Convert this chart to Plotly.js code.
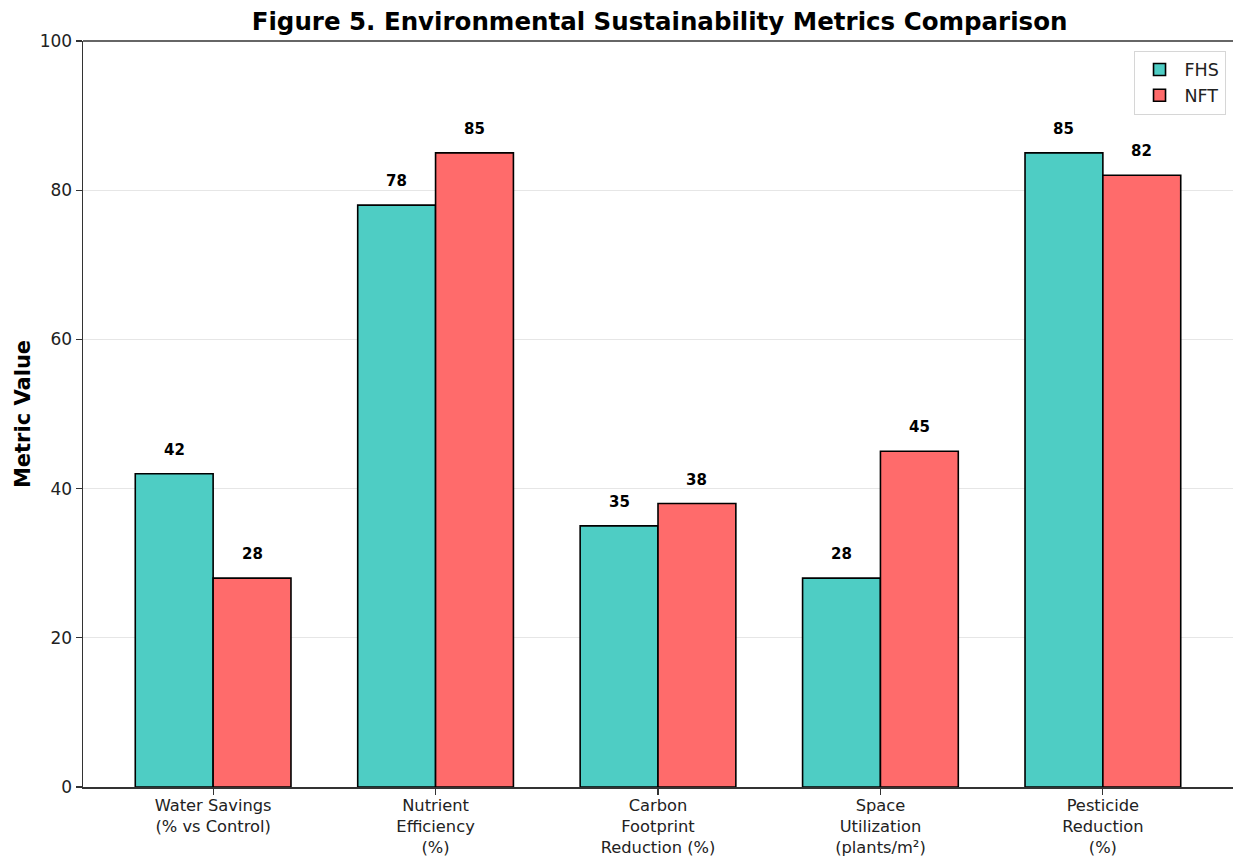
<!DOCTYPE html>
<html>
<head>
<meta charset="utf-8">
<script src="https://cdn.plot.ly/plotly-3.0.1.min.js"></script>
<style>
  html, body { margin: 0; padding: 0; background: #ffffff; }
  #chart { width: 1234px; height: 859px; }
</style>
</head>
<body>
<div id="chart"></div>
<script>
// Metric categories and values for the two systems
const categories = [
  "Water Savings<br>(% vs Control)",
  "Nutrient<br>Efficiency<br>(%)",
  "Carbon<br>Footprint<br>Reduction (%)",
  "Space<br>Utilization<br>(plants/m²)",
  "Pesticide<br>Reduction<br>(%)"
];
const fhsValues = [42, 78, 35, 28, 85];
const nftValues = [28, 85, 38, 45, 82];
const seriesNames = ["FHS", "NFT"];
const seriesColors = ["#4ECDC4", "#FF6B6B"];

const barWidth = 0.35;
const idx = categories.map((_, i) => i);
const xFhs = idx.map(i => i - barWidth / 2);
const xNft = idx.map(i => i + barWidth / 2);

const font = "DejaVu Sans, sans-serif";

function barTrace(xs, ys, name, color) {
  return {
    type: "bar",
    x: xs,
    y: ys,
    width: barWidth,
    name: name,
    marker: { color: color, line: { color: "#000000", width: 1.6 } },
    hoverinfo: "skip"
  };
}

const traces = [
  barTrace(xFhs, fhsValues, seriesNames[0], seriesColors[0]),
  barTrace(xNft, nftValues, seriesNames[1], seriesColors[1])
];

// value labels above each bar
const annotations = [];
[[xFhs, fhsValues], [xNft, nftValues]].forEach(([xs, ys]) => {
  xs.forEach((x, i) => {
    annotations.push({
      x: x, y: ys[i], xref: "x", yref: "y",
      text: "<b>" + ys[i] + "</b>",
      showarrow: false, yanchor: "bottom", yshift: 13,
      font: { family: font, size: 15, color: "#000000" }
    });
  });
});

const layout = {
  width: 1234,
  height: 859,
  paper_bgcolor: "#ffffff",
  plot_bgcolor: "#ffffff",
  margin: { l: 83, r: 1, t: 41, b: 72 },
  font: { family: font, size: 17, color: "#222222" },
  title: {
    text: "<b>Figure 5. Environmental Sustainability Metrics Comparison</b>",
    font: { family: font, size: 24.5, color: "#000000" },
    x: 0.5345, xanchor: "center", y: 0.975, yanchor: "middle"
  },
  showlegend: true,
  legend: {
    x: 0.9935, y: 0.987, xanchor: "right", yanchor: "top",
    bgcolor: "rgba(255,255,255,0.9)",
    bordercolor: "#d6d6d6", borderwidth: 1,
    font: { family: font, size: 17.5, color: "#222222" },
    itemwidth: 40
  },
  bargap: 0,
  xaxis: {
    range: [-0.585, 4.585],
    tickmode: "array",
    tickvals: idx,
    ticktext: categories,
    ticks: "outside", ticklen: 6, tickwidth: 1.2, tickcolor: "#333333",
    ticklabelstandoff: -3,
    showline: true, linecolor: "#333333", linewidth: 1.5,
    showgrid: false, zeroline: false,
    tickfont: { family: font, size: 16.3, color: "#222222" }
  },
  yaxis: {
    range: [0, 100],
    tickvals: [0, 20, 40, 60, 80, 100],
    ticks: "outside", ticklen: 6, tickwidth: 1.2, tickcolor: "#333333",
    showline: true, linecolor: "#333333", linewidth: 1.5,
    showgrid: true, gridcolor: "#e6e6e6", gridwidth: 1,
    zeroline: false,
    tickfont: { family: font, size: 17, color: "#222222" },
    title: {
      text: "<b>Metric Value</b>",
      font: { family: font, size: 21, color: "#000000" },
      standoff: 3
    }
  },
  shapes: [{
    type: "line", xref: "paper", yref: "paper",
    x0: 0, x1: 1, y0: 1, y1: 1,
    line: { color: "#333333", width: 1.5 }
  }],
  annotations: annotations
};

Plotly.newPlot("chart", traces, layout, { displayModeBar: false, staticPlot: true });
</script>
</body>
</html>
